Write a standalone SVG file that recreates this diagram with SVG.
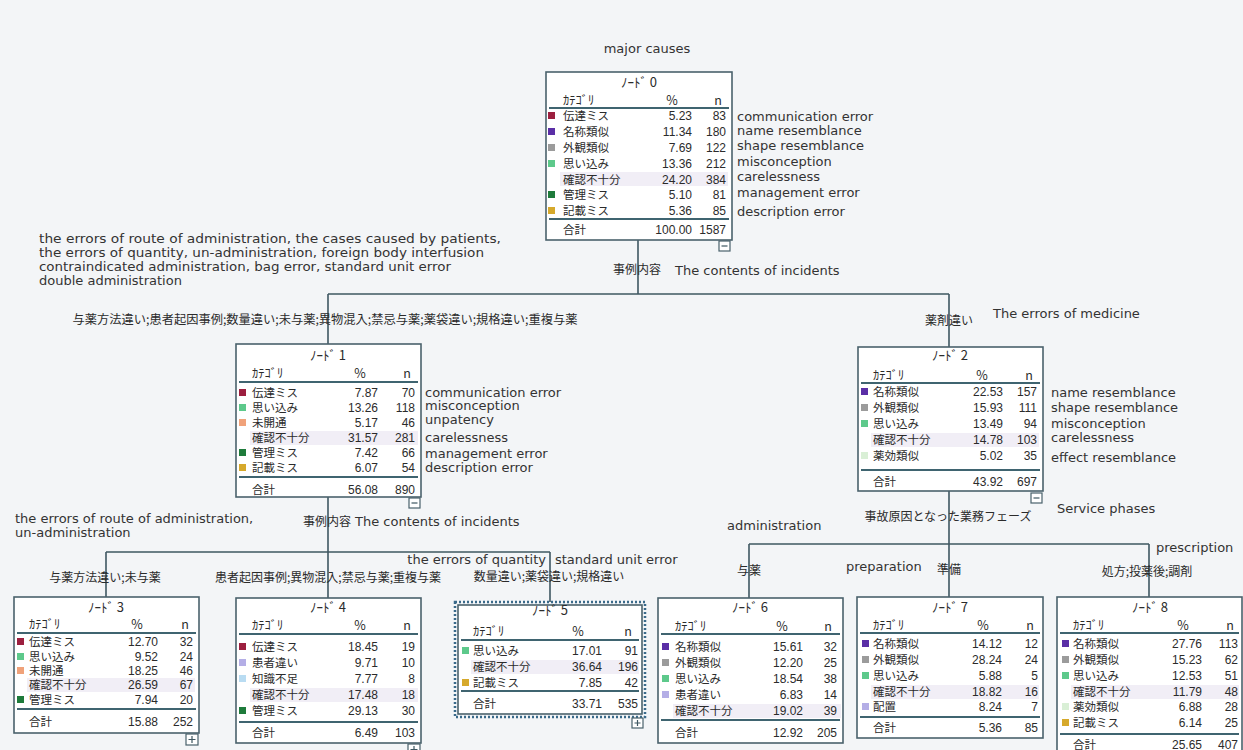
<svg xmlns="http://www.w3.org/2000/svg" width="1243" height="750" viewBox="0 0 1243 750">
<style>
.box{fill:#fff;stroke:#4a626c;stroke-width:1.6}
.ln{stroke:#3f5862;stroke-width:1.6;fill:none}
.rule{stroke:#3f6470;stroke-width:2}
.hl{fill:#f1eef6}
.tog{fill:#fff;stroke:#4a626c;stroke-width:1.2}
.togt{stroke:#3f5862;stroke-width:1.2}
.t{font-family:"Noto Sans CJK JP",sans-serif;font-size:11.5px;fill:#2b2b2b}
.hd{font-family:"Noto Sans CJK JP",sans-serif;font-size:12.5px;fill:#2b2b2b}
.ttl{font-family:"Noto Sans CJK JP",sans-serif;font-size:13px;fill:#2b2b2b;text-anchor:middle}
.mid{text-anchor:middle}
.num{font-family:"Liberation Sans",sans-serif;font-size:12px;fill:#2b2b2b;text-anchor:end}
.en{font-family:"DejaVu Sans",sans-serif;font-size:13px;fill:#333}
.jl{font-family:"Noto Sans CJK JP",sans-serif;font-size:12px;fill:#2b2b2b}
.red{fill:#9c1f3f}.pur{fill:#5a2ea6}.gry{fill:#9b9b9b}.grn{fill:#5dc98b}
.dgr{fill:#1e7b3b}.gld{fill:#d6a92c}.sal{fill:#f0a27a}.lav{fill:#b4aee6}
.lbl{fill:#b9dcf2}.pgr{fill:#d9efd6}
</style>
<rect width="1243" height="750" fill="#f3f5f7"/>

<!-- connectors -->
<g id="connectors">
  <path class="ln" d="M638 240V294M328 294H949M328 294V344M949 294V347"/>
  <path class="ln" d="M328 497V598M106 552H550M106 552V597M550 552V602"/>
  <path class="ln" d="M949 491V544M749 544H1149M749 544V598M949 544V597M1149 544V597"/>
</g>

<!-- connector labels -->
<g id="labels">
  <text class="en mid" x="647" y="53">major causes</text>
  <text class="en" x="39" y="243" textLength="462" lengthAdjust="spacingAndGlyphs">the errors of route of administration, the cases caused by patients,</text>
  <text class="en" x="39" y="257" textLength="445" lengthAdjust="spacingAndGlyphs">the errors of quantity, un-administration, foreign body interfusion</text>
  <text class="en" x="39" y="271" textLength="412" lengthAdjust="spacingAndGlyphs">contraindicated administration, bag error, standard unit error</text>
  <text class="en" x="39" y="285">double administration</text>
  <text class="jl" x="613" y="274">事例内容</text>
  <text class="en" x="675" y="275">The contents of incidents</text>
  <text class="jl mid" x="325" y="324" textLength="505" lengthAdjust="spacingAndGlyphs">与薬方法違い;患者起因事例;数量違い;未与薬;異物混入;禁忌与薬;薬袋違い;規格違い;重複与薬</text>
  <text class="jl mid" x="949" y="325">薬剤違い</text>
  <text class="en" x="993" y="318">The errors of medicine</text>

  <text class="en" x="15" y="523">the errors of route of administration,</text>
  <text class="en" x="15" y="537">un-administration</text>
  <text class="jl" x="303" y="526">事例内容</text>
  <text class="en" x="355" y="526">The contents of incidents</text>
  <text class="jl mid" x="105" y="582">与薬方法違い;未与薬</text>
  <text class="jl mid" x="328" y="582">患者起因事例;異物混入;禁忌与薬;重複与薬</text>
  <text class="en" x="546" y="564" text-anchor="end">the errors of quantity</text>
  <text class="en" x="555" y="564">standard unit error</text>
  <text class="jl mid" x="549" y="581">数量違い;薬袋違い;規格違い</text>

  <text class="jl mid" x="948" y="521">事故原因となった業務フェーズ</text>
  <text class="en" x="1057" y="513">Service phases</text>
  <text class="en" x="727" y="530">administration</text>
  <text class="jl mid" x="749" y="575">与薬</text>
  <text class="en" x="846" y="571">preparation</text>
  <text class="jl" x="937" y="574">準備</text>
  <text class="en" x="1156" y="552">prescription</text>
  <text class="jl mid" x="1147" y="576">処方;投薬後;調剤</text>
</g>

<!-- node 0 -->
<g id="node0">
  <rect class="box" x="546" y="72" width="186" height="168"/>
  <text class="ttl" x="639" y="87">ﾉｰﾄﾞ 0</text>
  <text class="hd" x="563" y="105">ｶﾃｺﾞﾘ</text>
  <text class="hd mid" x="672" y="105">%</text>
  <text class="hd mid" x="718" y="105">n</text>
  <line class="rule" x1="549" y1="108" x2="729" y2="108"/>
  <rect class="hl" x="560" y="172" width="168" height="14"/>
  <rect class="red" x="548" y="112" width="7" height="7"/>
  <rect class="pur" x="548" y="128" width="7" height="7"/>
  <rect class="gry" x="548" y="144" width="7" height="7"/>
  <rect class="grn" x="548" y="160" width="7" height="7"/>
  <rect class="dgr" x="548" y="191" width="7" height="7"/>
  <rect class="gld" x="548" y="207" width="7" height="7"/>
  <text class="t" x="563" y="120">伝達ミス</text>
  <text class="t" x="563" y="136">名称類似</text>
  <text class="t" x="563" y="152">外観類似</text>
  <text class="t" x="563" y="168">思い込み</text>
  <text class="t" x="563" y="184">確認不十分</text>
  <text class="t" x="563" y="199">管理ミス</text>
  <text class="t" x="563" y="215">記載ミス</text>
  <text class="num" x="692" y="120">5.23</text><text class="num" x="726" y="120">83</text>
  <text class="num" x="692" y="136">11.34</text><text class="num" x="726" y="136">180</text>
  <text class="num" x="692" y="152">7.69</text><text class="num" x="726" y="152">122</text>
  <text class="num" x="692" y="168">13.36</text><text class="num" x="726" y="168">212</text>
  <text class="num" x="692" y="184">24.20</text><text class="num" x="726" y="184">384</text>
  <text class="num" x="692" y="199">5.10</text><text class="num" x="726" y="199">81</text>
  <text class="num" x="692" y="215">5.36</text><text class="num" x="726" y="215">85</text>
  <line class="rule" x1="549" y1="219" x2="729" y2="219"/>
  <text class="t" x="563" y="234">合計</text>
  <text class="num" x="692" y="234">100.00</text><text class="num" x="726" y="234">1587</text>
  <rect class="tog" x="719" y="241" width="11" height="10"/>
  <line class="togt" x1="721.5" y1="246" x2="727.5" y2="246"/>
  <text class="en" x="737" y="121">communication error</text>
  <text class="en" x="737" y="135">name resemblance</text>
  <text class="en" x="737" y="150">shape resemblance</text>
  <text class="en" x="737" y="166">misconception</text>
  <text class="en" x="737" y="181">carelessness</text>
  <text class="en" x="737" y="197">management error</text>
  <text class="en" x="737" y="216">description error</text>
</g>

<!-- node 1 -->
<g id="node1">
  <rect class="box" x="236" y="344" width="185" height="153"/>
  <text class="ttl" x="328" y="360">ﾉｰﾄﾞ 1</text>
  <text class="hd" x="252" y="378">ｶﾃｺﾞﾘ</text>
  <text class="hd mid" x="360" y="378">%</text>
  <text class="hd mid" x="407" y="378">n</text>
  <line class="rule" x1="239" y1="382" x2="418" y2="382"/>
  <rect class="hl" x="250" y="431" width="168" height="14"/>
  <rect class="red" x="239" y="389" width="7" height="7"/>
  <rect class="grn" x="239" y="404" width="7" height="7"/>
  <rect class="sal" x="239" y="419" width="7" height="7"/>
  <rect class="dgr" x="239" y="449" width="7" height="7"/>
  <rect class="gld" x="239" y="464" width="7" height="7"/>
  <text class="t" x="252" y="397">伝達ミス</text>
  <text class="t" x="252" y="412">思い込み</text>
  <text class="t" x="252" y="427">未開通</text>
  <text class="t" x="252" y="442">確認不十分</text>
  <text class="t" x="252" y="457">管理ミス</text>
  <text class="t" x="252" y="472">記載ミス</text>
  <text class="num" x="378" y="397">7.87</text><text class="num" x="415" y="397">70</text>
  <text class="num" x="378" y="412">13.26</text><text class="num" x="415" y="412">118</text>
  <text class="num" x="378" y="427">5.17</text><text class="num" x="415" y="427">46</text>
  <text class="num" x="378" y="442">31.57</text><text class="num" x="415" y="442">281</text>
  <text class="num" x="378" y="457">7.42</text><text class="num" x="415" y="457">66</text>
  <text class="num" x="378" y="472">6.07</text><text class="num" x="415" y="472">54</text>
  <line class="rule" x1="239" y1="477" x2="418" y2="477"/>
  <text class="t" x="252" y="494">合計</text>
  <text class="num" x="378" y="494">56.08</text><text class="num" x="415" y="494">890</text>
  <rect class="tog" x="409" y="498" width="11" height="10"/>
  <line class="togt" x1="411.5" y1="503" x2="417.5" y2="503"/>
  <text class="en" x="425" y="397">communication error</text>
  <text class="en" x="425" y="410">misconception</text>
  <text class="en" x="425" y="424">unpatency</text>
  <text class="en" x="425" y="442">carelessness</text>
  <text class="en" x="425" y="458">management error</text>
  <text class="en" x="425" y="472">description error</text>
</g>

<!-- node 2 -->
<g id="node2">
  <rect class="box" x="858" y="347" width="185" height="144"/>
  <text class="ttl" x="950" y="360">ﾉｰﾄﾞ 2</text>
  <text class="hd" x="873" y="380">ｶﾃｺﾞﾘ</text>
  <text class="hd mid" x="982" y="380">%</text>
  <text class="hd mid" x="1029" y="380">n</text>
  <line class="rule" x1="861" y1="383" x2="1040" y2="383"/>
  <rect class="hl" x="871" y="433" width="168" height="14"/>
  <rect class="pur" x="861" y="388" width="7" height="7"/>
  <rect class="gry" x="861" y="404" width="7" height="7"/>
  <rect class="grn" x="861" y="420" width="7" height="7"/>
  <rect class="pgr" x="861" y="452" width="7" height="7"/>
  <text class="t" x="873" y="396">名称類似</text>
  <text class="t" x="873" y="412">外観類似</text>
  <text class="t" x="873" y="428">思い込み</text>
  <text class="t" x="873" y="444">確認不十分</text>
  <text class="t" x="873" y="460">薬効類似</text>
  <text class="num" x="1003" y="396">22.53</text><text class="num" x="1037" y="396">157</text>
  <text class="num" x="1003" y="412">15.93</text><text class="num" x="1037" y="412">111</text>
  <text class="num" x="1003" y="428">13.49</text><text class="num" x="1037" y="428">94</text>
  <text class="num" x="1003" y="444">14.78</text><text class="num" x="1037" y="444">103</text>
  <text class="num" x="1003" y="460">5.02</text><text class="num" x="1037" y="460">35</text>
  <line class="rule" x1="861" y1="470" x2="1040" y2="470"/>
  <text class="t" x="873" y="486">合計</text>
  <text class="num" x="1003" y="486">43.92</text><text class="num" x="1037" y="486">697</text>
  <rect class="tog" x="1031" y="493" width="11" height="10"/>
  <line class="togt" x1="1033.5" y1="498" x2="1039.5" y2="498"/>
  <text class="en" x="1051" y="397">name resemblance</text>
  <text class="en" x="1051" y="412">shape resemblance</text>
  <text class="en" x="1051" y="428">misconception</text>
  <text class="en" x="1051" y="442">carelessness</text>
  <text class="en" x="1051" y="462">effect resemblance</text>
</g>

<!-- node 3 -->
<g id="node3">
  <rect class="box" x="14" y="597" width="185" height="136"/>
  <text class="ttl" x="106" y="612">ﾉｰﾄﾞ 3</text>
  <text class="hd" x="29" y="629">ｶﾃｺﾞﾘ</text>
  <text class="hd mid" x="137" y="629">%</text>
  <text class="hd mid" x="185" y="629">n</text>
  <line class="rule" x1="17" y1="633" x2="196" y2="633"/>
  <rect class="hl" x="27" y="678" width="168" height="14"/>
  <rect class="red" x="17" y="638" width="7" height="7"/>
  <rect class="grn" x="17" y="653" width="7" height="7"/>
  <rect class="sal" x="17" y="667" width="7" height="7"/>
  <rect class="dgr" x="17" y="696" width="7" height="7"/>
  <text class="t" x="29" y="646">伝達ミス</text>
  <text class="t" x="29" y="661">思い込み</text>
  <text class="t" x="29" y="675">未開通</text>
  <text class="t" x="29" y="689">確認不十分</text>
  <text class="t" x="29" y="704">管理ミス</text>
  <text class="num" x="158" y="646">12.70</text><text class="num" x="193" y="646">32</text>
  <text class="num" x="158" y="661">9.52</text><text class="num" x="193" y="661">24</text>
  <text class="num" x="158" y="675">18.25</text><text class="num" x="193" y="675">46</text>
  <text class="num" x="158" y="689">26.59</text><text class="num" x="193" y="689">67</text>
  <text class="num" x="158" y="704">7.94</text><text class="num" x="193" y="704">20</text>
  <line class="rule" x1="17" y1="709" x2="196" y2="709"/>
  <text class="t" x="29" y="726">合計</text>
  <text class="num" x="158" y="726">15.88</text><text class="num" x="193" y="726">252</text>
  <rect class="tog" x="186" y="734" width="12" height="11"/>
  <path class="togt" d="M188.5 739.5H195.5M192 736V743"/>
</g>

<!-- node 4 -->
<g id="node4">
  <rect class="box" x="236" y="598" width="185" height="145"/>
  <text class="ttl" x="328" y="612">ﾉｰﾄﾞ 4</text>
  <text class="hd" x="252" y="630">ｶﾃｺﾞﾘ</text>
  <text class="hd mid" x="360" y="630">%</text>
  <text class="hd mid" x="407" y="630">n</text>
  <line class="rule" x1="239" y1="634" x2="418" y2="634"/>
  <rect class="hl" x="250" y="688" width="168" height="14"/>
  <rect class="red" x="239" y="643" width="7" height="7"/>
  <rect class="lav" x="239" y="659" width="7" height="7"/>
  <rect class="lbl" x="239" y="675" width="7" height="7"/>
  <rect class="dgr" x="239" y="707" width="7" height="7"/>
  <text class="t" x="252" y="651">伝達ミス</text>
  <text class="t" x="252" y="667">患者違い</text>
  <text class="t" x="252" y="683">知識不足</text>
  <text class="t" x="252" y="699">確認不十分</text>
  <text class="t" x="252" y="715">管理ミス</text>
  <text class="num" x="378" y="651">18.45</text><text class="num" x="415" y="651">19</text>
  <text class="num" x="378" y="667">9.71</text><text class="num" x="415" y="667">10</text>
  <text class="num" x="378" y="683">7.77</text><text class="num" x="415" y="683">8</text>
  <text class="num" x="378" y="699">17.48</text><text class="num" x="415" y="699">18</text>
  <text class="num" x="378" y="715">29.13</text><text class="num" x="415" y="715">30</text>
  <line class="rule" x1="239" y1="722" x2="418" y2="722"/>
  <text class="t" x="252" y="737">合計</text>
  <text class="num" x="378" y="737">6.49</text><text class="num" x="415" y="737">103</text>
  <rect class="tog" x="408" y="744" width="12" height="11"/>
  <path class="togt" d="M410.5 749.5H417.5M414 746V753"/>
</g>

<!-- node 5 (selected, dotted frame) -->
<g id="node5">
  <rect x="455" y="602" width="190" height="115" fill="none" stroke="#3a6a8a" stroke-width="2.5" stroke-dasharray="2 2"/>
  <rect class="box" x="458" y="605" width="184" height="109"/>
  <text class="ttl" x="550" y="615">ﾉｰﾄﾞ 5</text>
  <text class="hd" x="473" y="636">ｶﾃｺﾞﾘ</text>
  <text class="hd mid" x="578" y="636">%</text>
  <text class="hd mid" x="628" y="636">n</text>
  <line class="rule" x1="461" y1="640" x2="639" y2="640"/>
  <rect class="hl" x="471" y="660" width="168" height="14"/>
  <rect class="grn" x="462" y="647" width="7" height="7"/>
  <rect class="gld" x="462" y="679" width="7" height="7"/>
  <text class="t" x="473" y="655">思い込み</text>
  <text class="t" x="473" y="671">確認不十分</text>
  <text class="t" x="473" y="687">記載ミス</text>
  <text class="num" x="602" y="655">17.01</text><text class="num" x="638" y="655">91</text>
  <text class="num" x="602" y="671">36.64</text><text class="num" x="638" y="671">196</text>
  <text class="num" x="602" y="687">7.85</text><text class="num" x="638" y="687">42</text>
  <line class="rule" x1="461" y1="691" x2="639" y2="691"/>
  <text class="t" x="473" y="708">合計</text>
  <text class="num" x="602" y="708">33.71</text><text class="num" x="638" y="708">535</text>
  <rect class="tog" x="632" y="718" width="11" height="10"/>
  <path class="togt" d="M634.5 723H640.5M637.5 720V726"/>
</g>

<!-- node 6 -->
<g id="node6">
  <rect class="box" x="658" y="598" width="185" height="145"/>
  <text class="ttl" x="750" y="612">ﾉｰﾄﾞ 6</text>
  <text class="hd" x="675" y="631">ｶﾃｺﾞﾘ</text>
  <text class="hd mid" x="782" y="631">%</text>
  <text class="hd mid" x="828" y="631">n</text>
  <line class="rule" x1="661" y1="634" x2="840" y2="634"/>
  <rect class="hl" x="673" y="704" width="168" height="14"/>
  <rect class="pur" x="662" y="643" width="7" height="7"/>
  <rect class="gry" x="662" y="659" width="7" height="7"/>
  <rect class="grn" x="662" y="675" width="7" height="7"/>
  <rect class="lav" x="662" y="691" width="7" height="7"/>
  <text class="t" x="675" y="651">名称類似</text>
  <text class="t" x="675" y="667">外観類似</text>
  <text class="t" x="675" y="683">思い込み</text>
  <text class="t" x="675" y="699">患者違い</text>
  <text class="t" x="675" y="715">確認不十分</text>
  <text class="num" x="803" y="651">15.61</text><text class="num" x="837" y="651">32</text>
  <text class="num" x="803" y="667">12.20</text><text class="num" x="837" y="667">25</text>
  <text class="num" x="803" y="683">18.54</text><text class="num" x="837" y="683">38</text>
  <text class="num" x="803" y="699">6.83</text><text class="num" x="837" y="699">14</text>
  <text class="num" x="803" y="715">19.02</text><text class="num" x="837" y="715">39</text>
  <line class="rule" x1="661" y1="720" x2="840" y2="720"/>
  <text class="t" x="675" y="737">合計</text>
  <text class="num" x="803" y="737">12.92</text><text class="num" x="837" y="737">205</text>
</g>

<!-- node 7 -->
<g id="node7">
  <rect class="box" x="857" y="597" width="186" height="141"/>
  <text class="ttl" x="950" y="612">ﾉｰﾄﾞ 7</text>
  <text class="hd" x="873" y="630">ｶﾃｺﾞﾘ</text>
  <text class="hd mid" x="983" y="630">%</text>
  <text class="hd mid" x="1030" y="630">n</text>
  <line class="rule" x1="860" y1="633" x2="1040" y2="633"/>
  <rect class="hl" x="871" y="685" width="168" height="14"/>
  <rect class="pur" x="862" y="640" width="7" height="7"/>
  <rect class="gry" x="862" y="656" width="7" height="7"/>
  <rect class="grn" x="862" y="672" width="7" height="7"/>
  <rect class="lav" x="862" y="703" width="7" height="7"/>
  <text class="t" x="873" y="648">名称類似</text>
  <text class="t" x="873" y="664">外観類似</text>
  <text class="t" x="873" y="680">思い込み</text>
  <text class="t" x="873" y="696">確認不十分</text>
  <text class="t" x="873" y="711">配置</text>
  <text class="num" x="1002" y="648">14.12</text><text class="num" x="1038" y="648">12</text>
  <text class="num" x="1002" y="664">28.24</text><text class="num" x="1038" y="664">24</text>
  <text class="num" x="1002" y="680">5.88</text><text class="num" x="1038" y="680">5</text>
  <text class="num" x="1002" y="696">18.82</text><text class="num" x="1038" y="696">16</text>
  <text class="num" x="1002" y="711">8.24</text><text class="num" x="1038" y="711">7</text>
  <line class="rule" x1="860" y1="717" x2="1040" y2="717"/>
  <text class="t" x="873" y="732">合計</text>
  <text class="num" x="1002" y="732">5.36</text><text class="num" x="1038" y="732">85</text>
</g>

<!-- node 8 -->
<g id="node8">
  <rect class="box" x="1057" y="597" width="185" height="158"/>
  <text class="ttl" x="1150" y="612">ﾉｰﾄﾞ 8</text>
  <text class="hd" x="1073" y="630">ｶﾃｺﾞﾘ</text>
  <text class="hd mid" x="1183" y="630">%</text>
  <text class="hd mid" x="1230" y="630">n</text>
  <line class="rule" x1="1060" y1="633" x2="1239" y2="633"/>
  <rect class="hl" x="1071" y="685" width="168" height="14"/>
  <rect class="pur" x="1062" y="640" width="7" height="7"/>
  <rect class="gry" x="1062" y="656" width="7" height="7"/>
  <rect class="grn" x="1062" y="672" width="7" height="7"/>
  <rect class="pgr" x="1062" y="703" width="7" height="7"/>
  <rect class="gld" x="1062" y="719" width="7" height="7"/>
  <text class="t" x="1073" y="648">名称類似</text>
  <text class="t" x="1073" y="664">外観類似</text>
  <text class="t" x="1073" y="680">思い込み</text>
  <text class="t" x="1073" y="696">確認不十分</text>
  <text class="t" x="1073" y="711">薬効類似</text>
  <text class="t" x="1073" y="727">記載ミス</text>
  <text class="num" x="1202" y="648">27.76</text><text class="num" x="1238" y="648">113</text>
  <text class="num" x="1202" y="664">15.23</text><text class="num" x="1238" y="664">62</text>
  <text class="num" x="1202" y="680">12.53</text><text class="num" x="1238" y="680">51</text>
  <text class="num" x="1202" y="696">11.79</text><text class="num" x="1238" y="696">48</text>
  <text class="num" x="1202" y="711">6.88</text><text class="num" x="1238" y="711">28</text>
  <text class="num" x="1202" y="727">6.14</text><text class="num" x="1238" y="727">25</text>
  <line class="rule" x1="1060" y1="734" x2="1239" y2="734"/>
  <text class="t" x="1073" y="749">合計</text>
  <text class="num" x="1202" y="749">25.65</text><text class="num" x="1238" y="749">407</text>
</g>
</svg>
